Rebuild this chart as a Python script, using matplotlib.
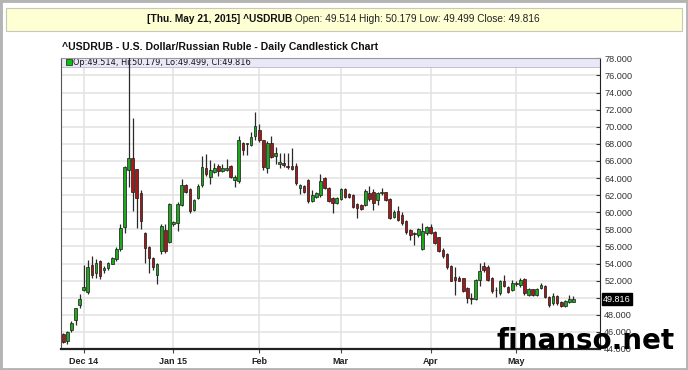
import numpy as np
import pandas as pd
import matplotlib
matplotlib.use("Agg")
import matplotlib.pyplot as plt
import matplotlib.transforms as mtransforms
from matplotlib.patches import Rectangle

plt.rcParams['font.family'] = ['Liberation Sans', 'DejaVu Sans']

# trading days shown on the chart (holidays Dec 25, Jan 1, Apr 3 left out)
dates = pd.bdate_range("2014-11-24", "2015-05-21")
dates = dates.drop(pd.to_datetime(["2014-12-25", "2015-01-01", "2015-04-03"]))

opens = [45.76, 44.90, 46.20, 47.45, 49.20, 50.95, 50.70, 53.80, 52.90, 54.30,
         53.20, 53.45, 54.00, 54.50, 55.70, 58.30, 64.90, 66.40, 65.00, 62.20,
         57.60, 55.90, 54.60, 52.60, 55.50, 57.90, 56.55, 58.60, 58.70, 60.80,
         63.20, 62.70, 60.25, 61.70, 63.20, 65.20, 64.10, 64.70, 65.40, 64.85,
         64.90, 65.40, 63.75, 63.60, 68.05, 68.00, 67.85, 68.90, 69.60, 68.40,
         65.13, 68.05, 66.57, 65.70, 65.79, 65.40, 65.40, 65.40, 62.79, 63.06,
         63.76, 61.35, 61.74, 62.00, 63.96, 62.79, 61.62, 61.03, 61.50, 62.67,
         62.13, 62.00, 60.92, 60.84, 60.84, 62.20, 62.40, 61.40, 62.20, 62.32,
         61.50, 59.40, 60.18, 59.68, 59.01, 57.92, 57.60, 57.34, 55.70, 57.53,
         58.31, 57.73, 57.06, 55.58, 55.10, 53.70, 52.40, 52.35, 52.27, 51.10,
         50.00, 49.85, 52.07, 53.70, 53.60, 52.30, 50.85, 50.51, 51.99, 51.29,
         50.90, 51.60, 51.50, 52.15, 50.32, 50.98, 50.32, 51.10, 51.37, 50.12,
         49.34, 50.20, 49.54, 49.03, 49.54, 49.514]
highs = [45.85, 46.15, 47.30, 48.85, 50.40, 53.80, 54.40, 54.90, 54.50, 54.40,
         53.70, 54.20, 54.80, 55.95, 58.60, 65.40, 80.00, 71.00, 65.10, 62.60,
         57.70, 56.00, 54.80, 54.10, 58.60, 58.60, 61.10, 59.00, 61.20, 63.90,
         63.30, 62.80, 61.50, 63.30, 66.60, 66.80, 66.10, 65.80, 65.60, 65.70,
         66.20, 65.50, 64.35, 68.90, 68.20, 68.10, 69.40, 71.75, 70.30, 68.50,
         68.36, 68.90, 67.60, 66.96, 66.88, 66.88, 67.47, 65.71, 63.30, 63.18,
         63.84, 62.60, 62.40, 64.43, 64.07, 62.90, 61.74, 61.74, 62.79, 62.79,
         62.28, 62.13, 61.03, 60.96, 62.67, 63.06, 62.67, 62.40, 62.79, 62.40,
         61.62, 60.25, 60.72, 60.00, 59.10, 58.00, 57.70, 58.10, 58.75, 58.40,
         58.60, 57.80, 57.15, 55.77, 55.20, 53.80, 53.56, 52.50, 52.35, 51.20,
         50.50, 52.20, 54.02, 54.20, 53.80, 52.40, 51.30, 52.07, 52.66, 51.40,
         52.07, 52.00, 52.27, 52.27, 51.10, 51.05, 51.10, 51.76, 51.50, 50.20,
         50.50, 50.30, 49.60, 49.75, 50.32, 50.179]
lows = [44.75, 44.60, 46.00, 46.80, 48.80, 50.80, 50.40, 52.30, 52.30, 52.20,
        52.85, 53.30, 53.90, 54.35, 55.50, 57.60, 63.00, 60.20, 58.10, 58.00,
        54.10, 52.85, 53.30, 51.60, 55.10, 55.20, 56.40, 58.40, 57.80, 60.70,
        62.30, 59.90, 60.10, 61.60, 63.00, 64.20, 63.30, 64.60, 64.20, 64.70,
        64.85, 64.05, 63.00, 63.45, 66.70, 66.70, 67.70, 68.40, 68.20, 64.90,
        64.54, 66.30, 65.60, 65.13, 65.24, 65.00, 64.95, 63.18, 62.13, 62.20,
        61.11, 61.23, 61.62, 61.74, 62.67, 61.23, 59.86, 60.96, 61.42, 61.62,
        61.62, 60.45, 59.28, 60.25, 60.72, 61.35, 60.25, 60.84, 62.00, 61.30,
        59.16, 59.30, 58.97, 58.50, 57.50, 56.75, 56.17, 57.15, 55.60, 57.30,
        57.50, 56.30, 55.40, 54.70, 53.40, 51.90, 50.32, 51.90, 50.70, 49.42,
        49.27, 49.70, 51.40, 53.00, 52.00, 50.60, 50.10, 50.30, 51.20, 50.59,
        50.80, 51.40, 51.30, 50.30, 50.20, 50.20, 50.20, 50.98, 50.00, 48.90,
        49.15, 49.20, 48.90, 48.95, 49.42, 49.499]
closes = [44.86, 46.03, 47.08, 48.76, 49.85, 51.20, 53.55, 52.60, 54.10, 52.50,
          53.50, 54.10, 54.60, 55.70, 58.10, 65.30, 66.40, 62.40, 61.70, 59.00,
          55.85, 54.60, 53.60, 53.90, 58.40, 55.50, 61.00, 58.90, 61.00, 63.20,
          62.40, 60.20, 61.40, 63.10, 65.30, 64.50, 64.90, 65.20, 64.85, 65.15,
          65.20, 64.15, 64.15, 68.40, 67.30, 68.05, 68.75, 70.10, 68.40, 65.30,
          68.05, 66.50, 66.88, 65.90, 65.52, 65.30, 65.01, 63.45, 63.18, 62.40,
          61.35, 62.00, 62.28, 63.65, 62.79, 61.35, 61.11, 61.62, 62.67, 61.81,
          61.74, 60.64, 60.45, 60.33, 62.52, 61.50, 61.11, 62.28, 62.40, 61.40,
          59.28, 60.06, 59.09, 58.70, 57.65, 57.34, 57.50, 58.00, 57.75, 58.30,
          57.61, 56.44, 55.50, 54.88, 53.56, 51.99, 52.07, 51.99, 50.83, 49.93,
          49.85, 52.10, 53.16, 53.20, 52.10, 50.75, 50.95, 51.99, 51.37, 50.71,
          51.68, 51.70, 52.07, 50.51, 50.98, 50.32, 50.98, 51.50, 50.12, 49.15,
          50.20, 49.34, 49.03, 49.65, 49.81, 49.816]

month_labels = ["Dec 14", "Jan 15", "Feb", "Mar", "Apr", "May"]
header_date = "[Thu. May 21, 2015] ^USDRUB"
header_vals = " Open: 49.514 High: 50.179 Low: 49.499 Close: 49.816"
title = "^USDRUB - U.S. Dollar/Russian Ruble - Daily Candlestick Chart"
legend_text = "Op:49.514, Hi:50.179, Lo:49.499, Cl:49.816"
last_close = closes[-1]

W, H = 688, 370
fig = plt.figure(figsize=(W / 100, H / 100), dpi=100)
fig.patch.set_facecolor("white")

# outer frame and yellow header box
fig.add_artist(Rectangle((0, 0), 1, 1, transform=fig.transFigure, fill=False,
                         edgecolor="#b4b4b4", lw=3.5))
fig.add_artist(Rectangle((6 / W, 1 - 31 / H), 676 / W, 23 / H, transform=fig.transFigure,
                         facecolor="#ffffd4", edgecolor="#c8c8b8", lw=0.8))
split = 292 / W
fig.text(split, 1 - 19.5 / H, header_date, ha="right", va="center", fontsize=7.3,
         fontweight="bold", color="#111111")
fig.text(split, 1 - 19.5 / H, header_vals, ha="left", va="center", fontsize=7.3,
         color="#222222")
fig.text(62 / W, 1 - 47 / H, title, ha="left", va="center", fontsize=7.6,
         fontweight="bold", color="#111111")

left, right, top, bottom = 61, 600, 57.5, 349
ax = fig.add_axes([left / W, 1 - bottom / H, (right - left) / W, (bottom - top) / H])

x = np.arange(len(dates))
o = np.array(opens)
c = np.array(closes)
up = c >= o
body_lo = np.minimum(o, c)
body_h = np.maximum(np.abs(c - o), 0.1)
ax.vlines(x, lows, highs, color="#2a2a2a", lw=0.9, zorder=3)
ax.bar(x, body_h, bottom=body_lo, width=0.64,
       color=np.where(up, "#1ea81e", "#a81818"), edgecolor="#1a1a1a", linewidth=0.5, zorder=4)

ax.set_xlim(-0.56, 131.5)
ax.set_ylim(44, 78.1)

# month gridlines at the first trading day of each month
month_first = [i for i in range(1, len(dates)) if dates[i].month != dates[i - 1].month]
ax.set_xticks(month_first)
ax.set_xticklabels(month_labels)
for lab in ax.get_xticklabels():
    lab.set_fontweight("bold")

yt = np.arange(44, 78.1, 2)
ax.set_yticks(yt)
ax.set_yticklabels(["" if v == 50 else f"{v:.3f}" for v in yt])
ax.yaxis.tick_right()
ax.tick_params(axis="y", direction="in", length=3, pad=3, labelsize=6.6,
               labelcolor="#333333", color="#333333")
ax.tick_params(axis="x", direction="out", length=3, pad=2.5, labelsize=6.5,
               labelcolor="#222222", color="#444444")
ax.set_axisbelow(True)
ax.grid(True, color="#e2e2e2", lw=1.1, zorder=0)

ax.spines["left"].set_color("#555555")
ax.spines["top"].set_color("#999999")
ax.spines["top"].set_linewidth(0.8)
ax.spines["right"].set_color("#222222")
ax.spines["bottom"].set_color("#222222")
ax.spines["bottom"].set_linewidth(1.6)

# legend strip at the top of the plot
band = 9.2 / (bottom - top)
ax.add_patch(Rectangle((0, 1 - band), 1, band, transform=ax.transAxes,
                       facecolor="#e8e8f8", edgecolor="#b8b8c8", lw=0.6, zorder=2))
ax.add_patch(Rectangle((4.5 / (right - left), 1 - band + 0.006), 6 / (right - left), 0.02,
                       transform=ax.transAxes, facecolor="#00c800", edgecolor="#333333",
                       lw=0.6, zorder=2.5))
ax.text(11.7 / (right - left), 1 - band / 2, legend_text, transform=ax.transAxes,
        ha="left", va="center", fontsize=5.9, family="DejaVu Sans", color="#111111", zorder=2.5)

# last price marker on the axis
trans = mtransforms.blended_transform_factory(ax.transAxes, ax.transData)
ax.text(1.0056, last_close, f"{last_close:.3f}", transform=trans, ha="left", va="center",
        fontsize=6.6, color="white", clip_on=False,
        bbox=dict(boxstyle="square,pad=0.15", facecolor="black", edgecolor="black"))

fig.text(586 / W, 1 - 341 / H, "finanso.net", ha="center", va="center", fontsize=20,
         fontweight="bold", family="DejaVu Sans", color="black", zorder=10)

fig.savefig("out.png", dpi=100)
